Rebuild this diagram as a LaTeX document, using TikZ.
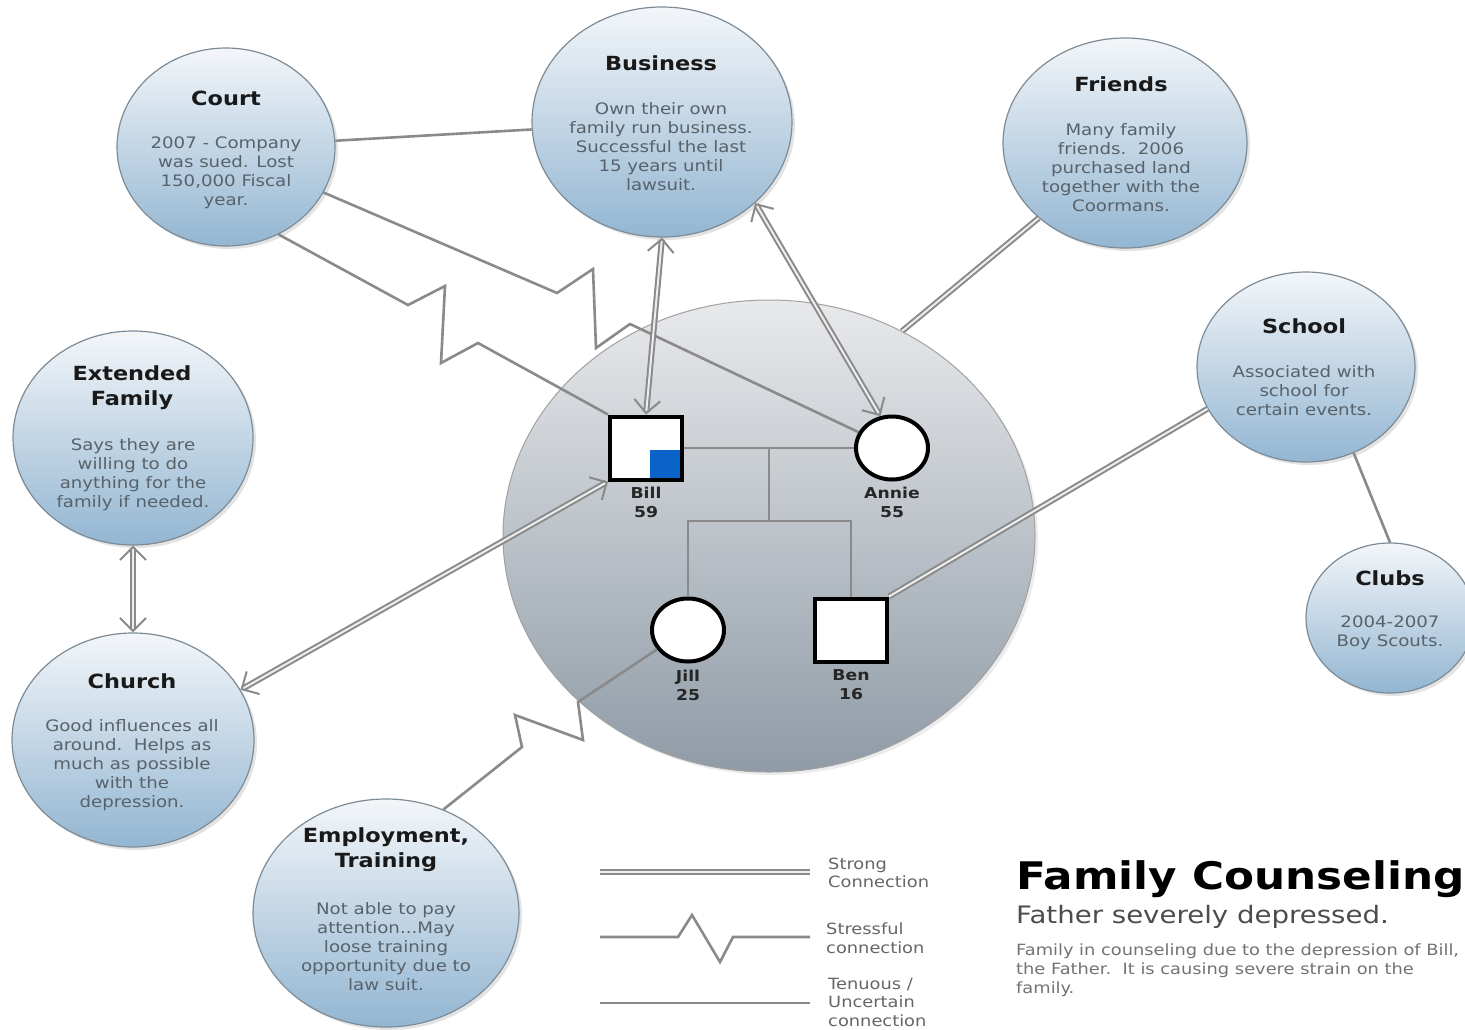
\documentclass[tikz,border=0pt]{standalone}
\usepackage{fontspec}
\setmainfont[FakeStretch=1.15]{DejaVu Sans}
\usetikzlibrary{shapes.geometric,positioning,shadows,arrows.meta,calc}

\definecolor{bubtop}{HTML}{F3F6F9}
\definecolor{bubbot}{HTML}{93B6D2}
\definecolor{bubedge}{HTML}{7D8B96}
\definecolor{famtop}{HTML}{E8E9EB}
\definecolor{fambot}{HTML}{8F9BA6}
\definecolor{wire}{HTML}{8A8A8A}
\definecolor{bodytxt}{HTML}{58626B}
\definecolor{billblue}{HTML}{0A63C9}

\begin{document}
\begin{tikzpicture}[
    x=1pt, y=-1pt,
    bubble/.style={ellipse, draw=bubedge, line width=1.2pt, top color=bubtop, bottom color=bubbot, inner sep=0pt,
        drop shadow={shadow xshift=3pt, shadow yshift=-3pt, opacity=0.22}},
    head/.style={align=center, inner sep=0pt, font=\fontsize{19.5}{25}\selectfont\bfseries, text=black!90},
    body/.style={align=center, inner sep=0pt, font=\fontsize{15.8}{19}\selectfont, text=bodytxt},
    male/.style={rectangle, draw=black, line width=4pt, fill=white, minimum width=72pt, minimum height=63pt},
    female/.style={ellipse, draw=black, line width=4pt, fill=white, minimum width=72pt, minimum height=63pt},
    nametag/.style={align=center, inner sep=0pt, font=\fontsize{15}{19}\selectfont\bfseries, text=black!85},
    kin/.style={draw=wire, line width=2.6pt},
    weak/.style={draw=wire, line width=2.6pt},
    stress/.style={draw=wire, line width=2.6pt, line join=miter},
    strong/.style={draw=wire, line width=2pt, double=white!85!wire, double distance=2pt},
    twoway/.style={{Straight Barb[length=13pt,width=26pt]}-{Straight Barb[length=13pt,width=26pt]}},
    keytext/.style={align=left, inner sep=0pt, anchor=west, font=\fontsize{15.5}{18.5}\selectfont, text=black!60}
]
\useasboundingbox (0,0) rectangle (1465,1029);
\fill[white] (0,0) rectangle (1465,1029);

% Family circle
\node[ellipse, draw=wire!80, line width=1pt, top color=famtop, bottom color=fambot,
      minimum width=532pt, minimum height=472pt,
      drop shadow={shadow xshift=3pt, shadow yshift=-3pt, opacity=0.15}] (family) at (769,536) {};

% Court
\node[bubble, minimum width=218pt, minimum height=198pt] (court) at (226,147) {};
\node[head] (court-h) at (226,98) {Court};
\node[body] (court-b) at (226,173) {2007 - Company\\was sued. Lost\\150,000 Fiscal\\year.};

% Business
\node[bubble, minimum width=260pt, minimum height=230pt] (business) at (662,122) {};
\node[head] (business-h) at (661,63) {Business};
\node[body] (business-b) at (661,147) {Own their own\\family run business.\\Successful the last\\15 years until\\lawsuit.};

% Friends
\node[bubble, minimum width=244pt, minimum height=210pt] (friends) at (1125,143) {};
\node[head] (friends-h) at (1121,84) {Friends};
\node[body] (friends-b) at (1121,168) {Many family\\friends.\ \ 2006\\purchased land\\together with the\\Coormans.};

% School
\node[bubble, minimum width=218pt, minimum height=190pt] (school) at (1306,367) {};
\node[head] (school-h) at (1304,326) {School};
\node[body] (school-b) at (1304,391) {Associated with\\school for\\certain events.};

% Clubs
\node[bubble, minimum width=168pt, minimum height=150pt] (clubs) at (1390,618) {};
\node[head] (clubs-h) at (1390,578) {Clubs};
\node[body] (clubs-b) at (1390,633) {2004-2007\\Boy Scouts.};

% Extended family
\node[bubble, minimum width=240pt, minimum height=214pt] (extended) at (133,438) {};
\node[head] (extended-h) at (132,388) {Extended\\Family};
\node[body] (extended-b) at (133,475) {Says they are\\willing to do\\anything for the\\family if needed.};

% Church
\node[bubble, minimum width=242pt, minimum height=214pt] (church) at (133,740) {};
\node[head] (church-h) at (132,681) {Church};
\node[body] (church-b) at (132,765) {Good influences all\\around.\ \ Helps as\\much as possible\\with the\\depression.};

% Employment
\node[bubble, minimum width=266pt, minimum height=228pt] (employ) at (386,913) {};
\node[head] (employ-h) at (386,850) {Employment,\\Training};
\node[body] (employ-b) at (386,947) {Not able to pay\\attention...May\\loose training\\opportunity due to\\law suit.};

% Genogram
\node[male] (bill) at (646,448) {};
\fill[billblue] ([xshift=4pt,yshift=-2pt]bill.center) rectangle ([xshift=-4pt,yshift=4pt]bill.south east);
\node[female] (annie) at (892,448) {};
\node[female] (jill) at (688,630) {};
\node[male] (ben) at (851,630) {};

\node[nametag, below=5pt of bill] (bill-t) {Bill\\59};
\node[nametag, below=5pt of annie] (annie-t) {Annie\\55};
\node[nametag, below=6pt of jill] (jill-t) {Jill\\25};
\node[nametag, below=6pt of ben] (ben-t) {Ben\\16};

\draw[kin] (bill.east) -- (annie.west);
\coordinate (wed) at ($(bill.east)!0.5!(annie.west)$);
\coordinate (sibs) at ($(wed)+(0,73)$);
\draw[kin] (wed) -- (sibs);
\draw[kin] (jill.north) |- (sibs) -| (ben.north);

% Connections
\draw[weak] (court) -- (business);
\draw[stress] (court.-25) -- (557,293) -- (593,269) -- (596,348) -- (630,324) -- (annie);
\draw[stress] (court.-59) -- (408,305) -- (445,286) -- (441,363) -- (478,343) -- (bill.north west);
\draw[strong, twoway] (business.south) -- (bill.north);
\draw[strong, twoway] (business.-41) -- (annie.110);
\draw[strong] (friends.221) -- (family.57);
\draw[strong] (ben.north east) -- (school.203);
\draw[weak] (school.-61) -- (clubs.north);
\draw[strong, twoway] (extended.south) -- (church.north);
\draw[strong, twoway] (church.25) -- (bill.south west);
\draw[stress] (jill.212) -- (578,702) -- (583,740) -- (515,715) -- (522,747) -- (employ.61);

% Legend
\coordinate (k1a) at (600,872);
\coordinate (k1b) at (810,872);
\draw[strong] (k1a) -- (k1b);
\node[keytext] (k1) at (828,873) {Strong\\Connection};
\coordinate (k2a) at (600,937);
\coordinate (k2b) at (810,937);
\draw[stress] (k2a) -- (678,937) -- (692,915) -- (720,962) -- (733,937) -- (k2b);
\node[keytext] (k2) at (826,938) {Stressful\\connection};
\coordinate (k3a) at (600,1003);
\coordinate (k3b) at (810,1003);
\draw[weak] (k3a) -- (k3b);
\node[keytext] (k3) at (828,1002) {Tenuous /\\Uncertain\\connection};

% Title
\node[anchor=base west, inner sep=0pt, font=\fontsize{38}{42}\selectfont\bfseries] (title) at (1016,889) {Family Counseling};
\node[anchor=base west, inner sep=0pt, font=\fontsize{24}{28}\selectfont, text=black!70] (sub) at (1016,923) {Father severely depressed.};
\node[anchor=north west, inner sep=0pt, align=left, font=\fontsize{15.5}{19}\selectfont, text=black!55] (desc) at (1016,944)
    {Family in counseling due to the depression of Bill,\\the Father.\ \ It is causing severe strain on the\\family.};

\end{tikzpicture}
\end{document}
